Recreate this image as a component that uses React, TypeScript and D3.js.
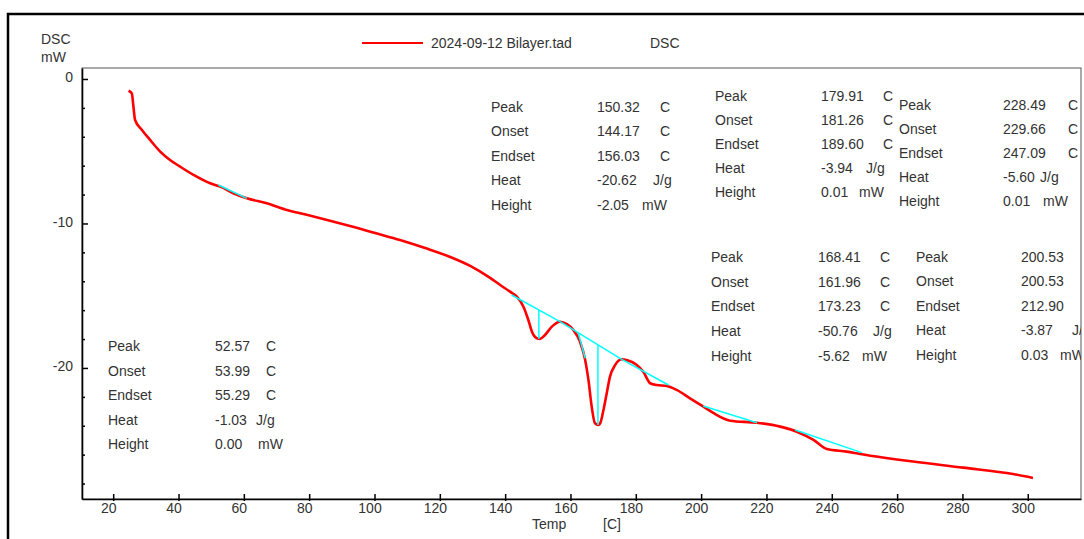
import { useEffect, useRef } from "react";
import * as d3 from "d3";

// DSC curve, temperature in C and heat flow in mW
const temps = [
  24.7, 25.7, 26.2, 26.7, 28.8, 31.3, 34.4, 37.4, 40.5, 44.6, 49.7, 52.8, 56.8, 60.9,
  67.0, 73.2, 77.2, 84.9, 92.5, 100.2, 107.8, 115.5, 123.2, 129.3, 135.4, 138.5, 141.5,
  143.6, 145.6, 147.1, 148.2, 149.7, 150.7, 152.2, 154.3, 156.8, 158.9, 160.9, 162.9,
  164.5, 165.5, 166.5, 167.5, 168.5, 169.1, 170.1, 171.1, 172.1, 173.7, 175.7, 177.2,
  180.3, 182.3, 184.4, 186.4, 189.5, 192.5, 196.6, 200.7, 203.7, 208.9, 217.0, 224.2,
  229.3, 234.4, 238.5, 244.6, 248.7, 264.9, 280.2, 295.5, 301.6,
];
const dsc = [
  -0.81, -1.0, -1.92, -2.84, -3.53, -4.22, -5.03, -5.61, -6.07, -6.64, -7.22, -7.45, -7.91, -8.26,
  -8.6, -9.07, -9.29, -9.72, -10.17, -10.66, -11.14, -11.7, -12.32, -12.94, -13.77, -14.26, -14.72,
  -15.07, -15.76, -16.68, -17.49, -17.94, -17.99, -17.72, -17.14, -16.8, -16.96, -17.37, -18.18,
  -19.45, -20.83, -22.68, -23.83, -23.94, -23.83, -22.91, -21.75, -20.6, -19.79, -19.4, -19.45,
  -19.79, -20.26, -21.06, -21.18, -21.25, -21.52, -22.1, -22.68, -23.11, -23.65, -23.79, -24.06,
  -24.41, -24.98, -25.61, -25.79, -25.95, -26.48, -26.9, -27.34, -27.61,
];

// peak baselines (cyan)
const baseStartT = [52.2, 142.0, 156.8, 175.7, 200.6, 228.8];
const baseStartV = [-7.34, -14.95, -16.8, -19.4, -22.63, -24.29];
const baseEndT = [60.9, 156.8, 175.7, 190.0, 217.1, 249.2];
const baseEndV = [-8.26, -16.8, -19.4, -21.18, -23.79, -25.86];

// peak height markers
const peakT = [150.32, 168.41];
const peakTop = [-15.99, -18.4];
const peakBottom = [-17.99, -23.94];

// onset tangent
const tangentT = [162.4, 164.5];
const tangentV = [-17.6, -19.33];

const xTicks = [20, 40, 60, 80, 100, 120, 140, 160, 180, 200, 220, 240, 260, 280, 300];
const yMajor = [0, -10, -20];
const yMinor = [-2, -4, -6, -8, -12, -14, -16, -18, -22, -24, -26, -28];

const rowLabels = ["Peak", "Onset", "Endset", "Heat", "Height"];
const rowUnits = ["C", "C", "C", "J/g", "mW"];

const block1 = ["52.57", "53.99", "55.29", "-1.03", "0.00"];
const block2 = ["150.32", "144.17", "156.03", "-20.62", "-2.05"];
const block3 = ["179.91", "181.26", "189.60", "-3.94", "0.01"];
const block4 = ["228.49", "229.66", "247.09", "-5.60", "0.01"];
const block5 = ["168.41", "161.96", "173.23", "-50.76", "-5.62"];
const block6 = ["200.53", "200.53", "212.90", "-3.87", "0.03"];

// where each block sits: label x, value x, first row centre, row step, unit offsets (C, J/g, mW)
const blockLayout = [
  { vals: block1, lx: 108, vx: 215, y0: 346, dy: 24.5, u: [51, 41, 43], showC: true },
  { vals: block2, lx: 491, vx: 597, y0: 106.5, dy: 24.6, u: [63, 56, 45], showC: true },
  { vals: block3, lx: 715, vx: 821, y0: 96, dy: 24, u: [62, 45, 38], showC: true },
  { vals: block4, lx: 899, vx: 1003, y0: 104.5, dy: 24, u: [65, 37, 40], showC: true },
  { vals: block5, lx: 711, vx: 818, y0: 257, dy: 24.7, u: [62, 55, 44], showC: true },
  { vals: block6, lx: 916, vx: 1021, y0: 256.5, dy: 24.5, u: [62, 51, 39], showC: false },
];

const FONT = "'Liberation Sans', Arial, sans-serif";
const TXT = "#333";

export default function App() {
  const ref = useRef<SVGSVGElement>(null);

  useEffect(() => {
    if (!ref.current) return;
    const svg = d3.select(ref.current);
    svg.selectAll("*").remove();

    const x = d3.scaleLinear().domain([10.45, 316.3]).range([82, 1081]);
    const y = d3.scaleLinear().domain([-29.07, 0.76]).range([499, 68]);

    // outer frame
    svg.append("rect")
      .attr("x", 8).attr("y", 14).attr("width", 1100).attr("height", 560)
      .attr("fill", "none").attr("stroke", "#000").attr("stroke-width", 2.5);

    // plot box
    svg.append("rect")
      .attr("x", 82).attr("y", 68).attr("width", 999).attr("height", 431)
      .attr("fill", "none").attr("stroke", "#555").attr("stroke-width", 1);

    svg.append("defs").append("clipPath").attr("id", "plotclip")
      .append("rect").attr("x", 82).attr("y", 68).attr("width", 999).attr("height", 431);

    // x axis
    const gx = svg.append("g")
      .attr("transform", "translate(0,499)")
      .call(d3.axisBottom(x).tickValues(xTicks).tickSizeInner(-5).tickSizeOuter(0).tickPadding(4)
        .tickFormat((d) => String(d)));
    gx.select(".domain").attr("stroke", "#000").attr("stroke-width", 1.6);
    gx.selectAll(".tick line").attr("stroke", "#000").attr("stroke-width", 1.5)
      .attr("y1", 2).attr("y2", -5);
    gx.selectAll(".tick text").attr("font-family", FONT).attr("font-size", 14).attr("fill", TXT)
      .attr("dx", -5);

    // y axis
    const gy = svg.append("g")
      .attr("transform", "translate(82,0)")
      .call(d3.axisLeft(y).tickValues(yMajor).tickSizeInner(-6).tickSizeOuter(0).tickPadding(9)
        .tickFormat((d) => String(d)));
    gy.select(".domain").attr("stroke", "#000").attr("stroke-width", 1.6);
    gy.selectAll(".tick line").attr("stroke", "#000").attr("stroke-width", 1.5);
    gy.selectAll(".tick text").attr("font-family", FONT).attr("font-size", 14).attr("fill", TXT)
      .attr("dy", "0.2em");

    const gyMinor = svg.append("g")
      .attr("transform", "translate(82,0)")
      .call(d3.axisLeft(y).tickValues(yMinor).tickSizeInner(-3).tickSizeOuter(0).tickFormat(() => ""));
    gyMinor.select(".domain").remove();
    gyMinor.selectAll(".tick line").attr("stroke", "#000").attr("stroke-width", 1.5);

    // axis titles
    const t = (tx: number, ty: number, s: string) =>
      svg.append("text").attr("x", tx).attr("y", ty).text(s)
        .attr("font-family", FONT).attr("font-size", 14).attr("fill", TXT);
    t(41, 44, "DSC");
    t(41, 62, "mW");
    t(532, 529, "Temp");
    t(603, 529, "[C]");

    // legend
    svg.append("line").attr("x1", 362).attr("x2", 423).attr("y1", 43).attr("y2", 43)
      .attr("stroke", "#ff0000").attr("stroke-width", 2);
    t(431, 48, "2024-09-12 Bilayer.tad");
    t(650, 48, "DSC");

    const plot = svg.append("g").attr("clip-path", "url(#plotclip)");

    // curve
    const pts = temps.map((d, i) => [d, dsc[i]] as [number, number]);
    const line = d3.line<[number, number]>()
      .x((d) => x(d[0]))
      .y((d) => y(d[1]))
      .curve(d3.curveMonotoneX);
    plot.append("path").attr("d", line(pts))
      .attr("fill", "none").attr("stroke", "#ff0000").attr("stroke-width", 2.6)
      .attr("stroke-linejoin", "round");

    // baselines and peak markers
    const cyan = "#00ffff";
    baseStartT.forEach((s, i) => {
      plot.append("line")
        .attr("x1", x(s)).attr("y1", y(baseStartV[i]))
        .attr("x2", x(baseEndT[i])).attr("y2", y(baseEndV[i]))
        .attr("stroke", cyan).attr("stroke-width", 1.5);
    });
    peakT.forEach((p, i) => {
      plot.append("line")
        .attr("x1", x(p)).attr("y1", y(peakTop[i]))
        .attr("x2", x(p)).attr("y2", y(peakBottom[i]))
        .attr("stroke", cyan).attr("stroke-width", 1.5);
    });
    plot.append("line")
      .attr("x1", x(tangentT[0])).attr("y1", y(tangentV[0]))
      .attr("x2", x(tangentT[1])).attr("y2", y(tangentV[1]))
      .attr("stroke", cyan).attr("stroke-width", 1.5);

    // result blocks
    blockLayout.forEach((b) => {
      b.vals.forEach((v, r) => {
        const cy = b.y0 + r * b.dy + 5;
        const unit = rowUnits[r];
        const unitDx = unit === "C" ? b.u[0] : unit === "J/g" ? b.u[1] : b.u[2];
        const items: [number, string][] = [[b.lx, rowLabels[r]], [b.vx, v]];
        if (unit !== "C" || b.showC) items.push([b.vx + unitDx, unit]);
        items.forEach(([px, s]) => {
          plot.append("text").attr("x", px).attr("y", cy).text(s)
            .attr("font-family", FONT).attr("font-size", 14).attr("fill", TXT);
        });
      });
    });
  }, []);

  return (
    <svg
      ref={ref}
      width={1084}
      height={539}
      style={{ position: "absolute", left: 0, top: 0, background: "#fff" }}
    />
  );
}
